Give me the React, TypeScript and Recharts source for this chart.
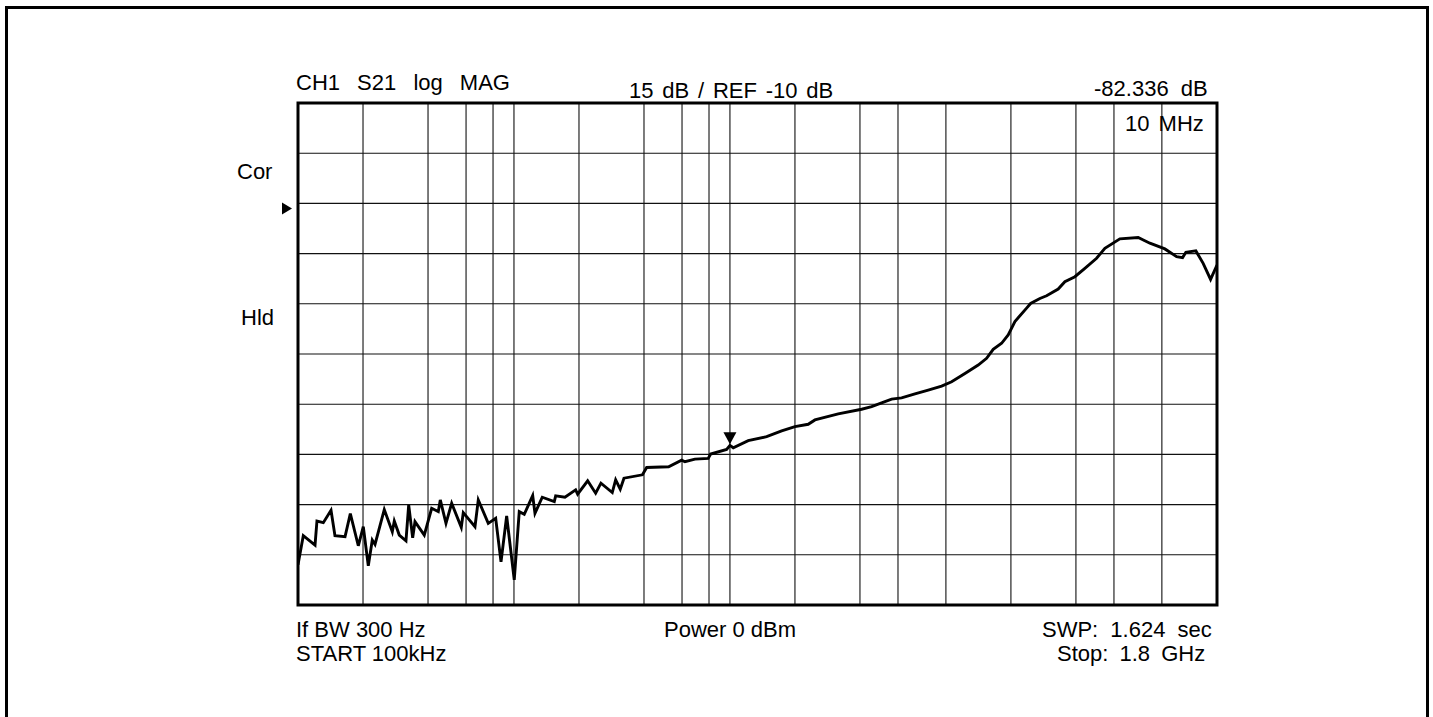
import { LineChart, Line, XAxis, YAxis, CartesianGrid, ReferenceArea, ReferenceDot } from 'recharts';

// sweep points (frequency in MHz, S21 in dB)
const freqMHz = [
  0.1, 0.1058, 0.1199, 0.1224, 0.131, 0.1422, 0.1483, 0.1651, 0.1747, 0.1902,
  0.2006, 0.2116, 0.2208, 0.2273, 0.2509, 0.2733, 0.2792, 0.2944, 0.3162, 0.3255,
  0.3396, 0.3481, 0.3843, 0.4159, 0.4462, 0.4559, 0.4844, 0.5147, 0.5702, 0.5825,
  0.6599, 0.6836, 0.7603, 0.8228, 0.871, 0.9251, 1.003, 1.058, 1.116, 1.221,
  1.251, 1.352, 1.537, 1.56, 1.722, 1.93, 1.972, 2.194, 2.389, 2.528,
  2.852, 2.957, 3.105, 3.231, 3.935, 4.116, 5.202, 5.976, 6.19, 6.887,
  7.935, 8.14, 9.654, 10, 10.36, 12.15, 14.79, 17.36, 20.0, 23.04,
  24.75, 31.73, 40.71, 45.29, 50.39, 56.05, 62.36, 71.89, 82.82, 95.52,
  106.3, 122.5, 141.1, 154.3, 165.6, 181.1, 194.3, 208.7, 236.4, 246.7,
  272.4, 292.6, 331.1, 355.5, 395.6, 440.0, 498.5, 544.6, 639.1, 776.9,
  880.1, 1032.5, 1170, 1247, 1291.6, 1437, 1553, 1681, 1800,
];

const s21Db = [
  -118.0, -109.3, -112.1, -104.9, -105.4, -101.7, -109.3, -109.6, -102.7, -112.3,
  -106.6, -118.3, -110.6, -111.9, -101.5, -108.1, -104.9, -109.1, -110.8, -100.1,
  -109.9, -105.1, -109.1, -101.1, -102.1, -98.6, -105.6, -99.6, -106.8, -102.4,
  -106.6, -98.6, -105.6, -104.1, -117.1, -103.4, -122.5, -102.1, -102.9, -97.3,
  -102.6, -97.8, -99.1, -97.4, -97.8, -95.6, -96.9, -92.9, -96.6, -93.6,
  -96.4, -92.6, -95.4, -92.1, -91.1, -88.9, -88.7, -86.7, -87.2, -86.4,
  -86.2, -84.9, -83.5, -82.3, -83.0, -80.9, -79.7, -78.0, -76.7, -76.0,
  -74.7, -72.9, -71.5, -70.7, -69.6, -68.5, -68.1, -66.9, -65.8, -64.6,
  -63.3, -60.8, -58.3, -56.3, -53.6, -51.8, -49.3, -45.3, -41.3, -39.9,
  -38.4, -37.6, -35.6, -33.4, -31.9, -29.4, -26.4, -23.4, -20.6, -20.2,
  -21.9, -23.6, -25.9, -26.2, -24.6, -24.2, -27.9, -32.7, -28.4,
];

// log grid: 1, 2, 4, 6, 8 per decade
const gridFreqs = [
  0.1, 0.2, 0.4, 0.6, 0.8, 1, 2, 4, 6, 8, 10, 20, 40, 60, 80,
  100, 200, 400, 600, 800, 1000, 1800,
];
const dbTicks = [-130, -115, -100, -85, -70, -55, -40, -25, -10, 5, 20];

const startMHz = 0.1;
const stopMHz = 1800;
const refDb = -10;
const markerMHz = 10;
const markerDb = -82.3;

const data = freqMHz.map((f, i) => ({ f, db: s21Db[i] }));

const font = '"Liberation Sans", Arial, sans-serif';

const Label = ({ left, top, text, ws = 0 }: { left: number; top: number; text: string; ws?: number }) => (
  <div
    style={{
      position: 'absolute',
      left,
      top,
      fontFamily: font,
      fontSize: 22,
      lineHeight: '22px',
      color: '#000',
      whiteSpace: 'pre',
      wordSpacing: ws,
    }}
  >
    {text}
  </div>
);

const RefArrow = (props: any) => {
  const { cx, cy } = props;
  return <polygon points={`${cx - 16},${cy - 1} ${cx - 16},${cy + 11} ${cx - 6},${cy + 5}`} fill="#000" />;
};

const MarkerArrow = (props: any) => {
  const { cx, cy } = props;
  return <polygon points={`${cx - 6.5},${cy - 13} ${cx + 6.5},${cy - 13} ${cx},${cy - 1}`} fill="#000" />;
};

export default function App() {
  return (
    <div style={{ position: 'absolute', left: 0, top: 0, width: 1433, height: 717, overflow: 'hidden', background: '#fff' }}>
      <div
        style={{
          position: 'absolute',
          left: 5,
          top: 6,
          width: 1424,
          height: 760,
          border: '3px solid #000',
          boxSizing: 'border-box',
        }}
      />
      <div style={{ position: 'absolute', left: 0, top: 0 }}>
        <LineChart width={1433} height={717} data={data} margin={{ top: 103, right: 216, bottom: 112, left: 298 }}>
          <XAxis
            dataKey="f"
            type="number"
            scale="log"
            domain={[startMHz, stopMHz]}
            ticks={gridFreqs}
            allowDataOverflow
            hide
          />
          <YAxis type="number" domain={[-130, 20]} ticks={dbTicks} allowDataOverflow hide />
          <CartesianGrid stroke="#111" strokeWidth={1.1} />
          <ReferenceArea
            x1={startMHz}
            x2={stopMHz}
            y1={-130}
            y2={20}
            fill="none"
            fillOpacity={0}
            stroke="#000"
            strokeWidth={3}
          />
          <Line
            type="linear"
            dataKey="db"
            stroke="#000"
            strokeWidth={2.9}
            dot={false}
            isAnimationActive={false}
          />
          <ReferenceDot x={startMHz} y={refDb} r={0} shape={RefArrow} />
          <ReferenceDot x={markerMHz} y={markerDb} r={0} shape={MarkerArrow} />
        </LineChart>
      </div>

      <Label left={296} top={72} text="CH1 S21 log MAG" ws={11} />
      <Label left={629} top={80} text="15 dB / REF -10 dB" ws={2.7} />
      <Label left={1094} top={78} text="-82.336 dB" ws={6} />
      <Label left={1125} top={113} text="10 MHz" ws={3} />
      <Label left={237} top={161} text="Cor" />
      <Label left={241} top={307} text="Hld" />

      <Label left={296} top={619} text="If BW 300 Hz" />
      <Label left={296} top={643} text="START 100kHz" />
      <Label left={664} top={619} text="Power 0 dBm" />
      <Label left={1042} top={619} text="SWP: 1.624 sec" ws={6} />
      <Label left={1057} top={643} text="Stop: 1.8 GHz" ws={5} />
    </div>
  );
}
